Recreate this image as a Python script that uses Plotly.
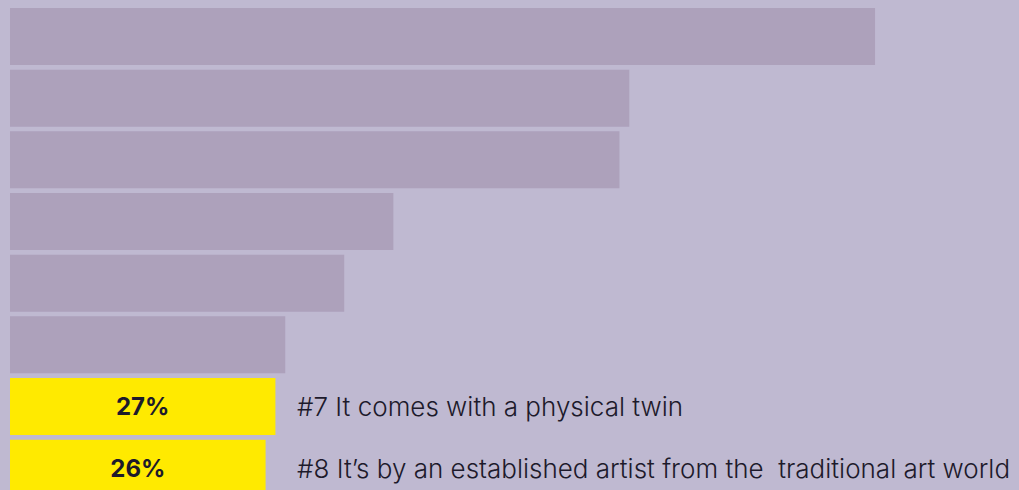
import plotly.graph_objects as go

# Data
categories = ["#1", "#2", "#3", "#4", "#5", "#6", "#7", "#8"]
values = [88, 63, 62, 39, 34, 28, 27, 26]
bar_text = ["", "", "", "", "", "", "27%", "26%"]
side_labels = ["", "", "", "", "", "",
               "#7 It comes with a physical twin",
               "#8 It\u2019s by an established artist from the  traditional art world"]
highlight = [False, False, False, False, False, False, True, True]

BG = "#bfb9d1"
GREY = "#ada1bb"
YELLOW = "#ffea00"
TEXT = "#1d1a2b"

colors = [YELLOW if h else GREY for h in highlight]
SCALE = 9.83  # px per percent

fig = go.Figure(go.Bar(
    x=values,
    y=categories,
    orientation="h",
    marker=dict(color=colors, line=dict(width=0)),
    text=bar_text,
    textposition="inside",
    insidetextanchor="middle",
    textangle=0,
    textfont=dict(family="Inter", size=24, color=TEXT, weight="bold"),
    hoverinfo="skip",
))

LABEL_X = 29.0
for cat, lab in zip(categories, side_labels):
    if lab:
        fig.add_annotation(
            x=LABEL_X, y=cat, xref="x", yref="y",
            text=lab, showarrow=False, xanchor="left", yanchor="middle",
            font=dict(family="Inter", size=26, color=TEXT, weight=300),
        )

fig.update_layout(
    width=1019, height=490,
    margin=dict(l=10, r=0, t=0, b=0),
    paper_bgcolor=BG, plot_bgcolor=BG,
    bargap=0.076,
    showlegend=False,
    uniformtext=dict(mode=False),
    xaxis=dict(range=[0, 1009 / SCALE], showgrid=False, zeroline=False,
               showticklabels=False, visible=False),
    yaxis=dict(categoryorder="array", categoryarray=categories,
               range=[7.354, -0.592], autorange=False, showgrid=False,
               zeroline=False, showticklabels=False, visible=False),
)

fig.write_html("out.html")
